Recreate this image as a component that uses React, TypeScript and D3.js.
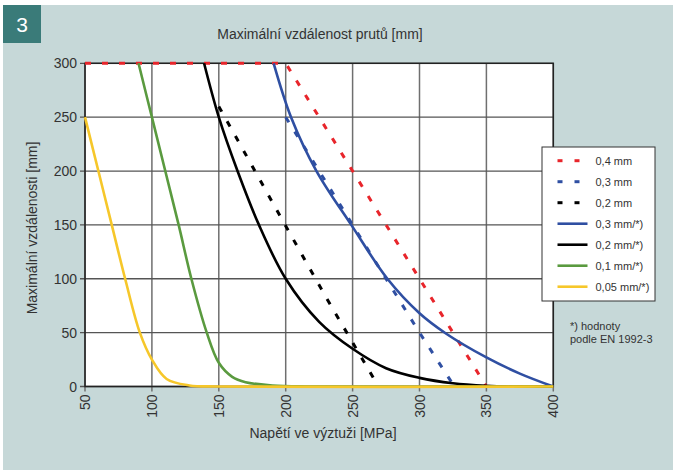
import React from 'react'
import * as d3 from 'd3'

// napětí [MPa] / max. vzdálenost [mm]
const red04X = [50, 200, 350, 400]
const red04Y = [300, 300, 0, 0]
const blue03X = [200, 250, 300, 325]
const blue03Y = [250, 150, 50, 2]
const black02X = [150, 200, 231, 266]
const black02Y = [260, 149, 81, 7]

const blueSolidX = [191, 204, 223, 249, 276, 300, 320, 350, 375, 400]
const blueSolidY = [300, 250, 200, 150, 100, 68, 49, 27, 12, 0]
const blackSolidX = [139, 150, 164, 180, 200, 225, 250, 275, 300, 325, 350, 370, 400]
const blackSolidY = [300, 250, 200, 150, 100, 60, 35, 17, 8, 3, 0.7, 0, 0]
const greenX = [90, 100, 110, 120, 129.5, 141, 150, 160, 170, 190, 215, 400]
const greenY = [300, 250, 200, 150, 100, 50, 22, 9, 4, 1, 0, 0]
const yellowX = [50, 60, 70, 80, 91, 100, 111, 128, 150, 400]
const yellowY = [250, 200, 150, 100, 50, 25, 7, 1, 0, 0]

const xTicks = [50, 100, 150, 200, 250, 300, 350, 400]
const yTicks = [0, 50, 100, 150, 200, 250, 300]

const legendLabels = ['0,4 mm', '0,3 mm', '0,2 mm', '0,3 mm/*)', '0,2 mm/*)', '0,1 mm/*)', '0,05 mm/*)']

const RED = '#e8252b'
const BLUE = '#2f4fa2'
const GREEN = '#5a9a3f'
const YELLOW = '#f6c72a'
const FONT = 'Liberation Sans, Arial, sans-serif'

export default function App() {
  const W = 673
  const H = 470
  const plot = { left: 85, top: 63.3, right: 553.3, bottom: 386.5 }

  const x = d3.scaleLinear().domain([50, 400]).range([plot.left, plot.right])
  const y = d3.scaleLinear().domain([0, 300]).range([plot.bottom, plot.top])

  const zip = (xs: number[], ys: number[]) => xs.map((v, i) => [v, ys[i]] as [number, number])
  const straight = d3.line<[number, number]>().x(d => x(d[0])).y(d => y(d[1]))
  const smooth = d3.line<[number, number]>().x(d => x(d[0])).y(d => y(d[1])).curve(d3.curveCatmullRom.alpha(0.5))

  const series = [
    { pts: zip(red04X, red04Y), color: RED, dashed: true },
    { pts: zip(blue03X, blue03Y), color: BLUE, dashed: true },
    { pts: zip(black02X, black02Y), color: '#000', dashed: true },
    { pts: zip(blueSolidX, blueSolidY), color: BLUE, dashed: false },
    { pts: zip(blackSolidX, blackSolidY), color: '#000', dashed: false },
    { pts: zip(greenX, greenY), color: GREEN, dashed: false },
    { pts: zip(yellowX, yellowY), color: YELLOW, dashed: false },
  ]

  const legend = { x: 542, y: 147, w: 113, h: 154 }

  return (
    <svg width={W} height={H} style={{ position: 'absolute', left: 0, top: 0 }} fontFamily={FONT}>
      <rect x={3} y={5} width={W - 3} height={H - 5} fill="#c6d8d8" />
      <rect x={3} y={5} width={38} height={38} fill="#3a7b79" />
      <text x={22} y={32} fontSize={21} fill="#fff" textAnchor="middle">3</text>

      <text x={320} y={39} fontSize={14} fill="#333" textAnchor="middle">Maximální vzdálenost prutů [mm]</text>

      <rect x={plot.left} y={plot.top} width={plot.right - plot.left} height={plot.bottom - plot.top} fill="#fff" />

      {xTicks.map(t => (
        <g key={'x' + t}>
          <line x1={x(t)} x2={x(t)} y1={plot.top} y2={plot.bottom + 5} stroke="#6f6f6f" strokeWidth={1.5} />
          <text transform={`translate(${x(t)},${plot.bottom + 8}) rotate(-90)`} dy="0.36em" textAnchor="end" fontSize={14} fill="#333">{t}</text>
        </g>
      ))}
      {yTicks.map(t => (
        <g key={'y' + t}>
          <line x1={plot.left - 5} x2={plot.right} y1={y(t)} y2={y(t)} stroke="#555" strokeWidth={1.3} />
          <text x={77} y={y(t)} dy="0.36em" textAnchor="end" fontSize={14} fill="#333">{t}</text>
        </g>
      ))}
      <rect x={plot.left} y={plot.top} width={plot.right - plot.left} height={plot.bottom - plot.top} fill="none" stroke="#222" strokeWidth={1.5} />

      {series.map((s, i) => (
        <path key={i} d={(s.dashed ? straight(s.pts) : smooth(s.pts)) || ''} fill="none" stroke={s.color}
          strokeWidth={s.dashed ? 3 : 2.6} strokeDasharray={s.dashed ? '6 11' : undefined} />
      ))}

      <text transform="translate(37,228) rotate(-90)" textAnchor="middle" fontSize={14} fill="#333">Maximální vzdálenosti [mm]</text>
      <text x={323} y={438} textAnchor="middle" fontSize={14} fill="#333">Napětí ve výztuži [MPa]</text>

      <rect x={legend.x} y={legend.y} width={legend.w} height={legend.h} fill="#fff" stroke="#333" strokeWidth={1} />
      {legendLabels.map((lab, i) => {
        const s = series[i]
        const ly = 160.7 + i * 21
        return (
          <g key={lab}>
            {s.dashed ? (
              <>
                <line x1={557.5} x2={562.5} y1={ly} y2={ly} stroke={s.color} strokeWidth={3} />
                <line x1={574.5} x2={579.5} y1={ly} y2={ly} stroke={s.color} strokeWidth={3} />
              </>
            ) : (
              <line x1={557.5} x2={587.5} y1={ly} y2={ly} stroke={s.color} strokeWidth={2.6} />
            )}
            <text x={595.5} y={ly} dy="0.35em" fontSize={11} fill="#333">{lab}</text>
          </g>
        )
      })}
      <text x={570} y={330} fontSize={11} fill="#333">*) hodnoty</text>
      <text x={570} y={343} fontSize={11} fill="#333">podle EN 1992-3</text>
    </svg>
  )
}
